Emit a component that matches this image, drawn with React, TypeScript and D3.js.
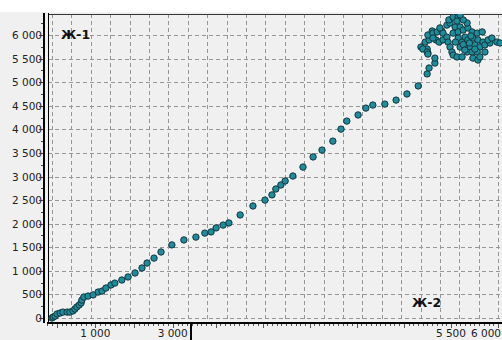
import React from "react";
import * as d3 from "d3";

const W = 502, H = 340;

// series: Ж-2 (horizontal) against Ж-1 (vertical)
const trackX = [0, 15, 40, 65, 105, 140, 195, 230, 270, 295, 320, 350, 375, 385, 410, 465, 530, 595, 645, 695, 760, 810, 900, 980, 1070, 1160, 1225, 1315, 1405, 1545, 1700, 1855, 1970, 2050, 2115, 2205, 2280, 2425, 2590, 2745, 2835, 2885, 2950, 3005, 3105, 3235, 3365, 3480, 3620, 3725, 3800, 3945, 4045, 4135, 4290, 4435, 4575, 4720, 4835, 4860, 4935, 4935, 4845, 4835, 4755];
const trackY = [0, 20, 40, 85, 105, 125, 125, 125, 150, 190, 235, 275, 320, 380, 445, 465, 490, 550, 570, 635, 700, 740, 805, 870, 955, 1060, 1165, 1270, 1400, 1550, 1655, 1715, 1800, 1825, 1910, 1970, 2015, 2185, 2375, 2500, 2610, 2735, 2820, 2905, 3010, 3200, 3415, 3560, 3750, 4005, 4175, 4305, 4450, 4515, 4535, 4620, 4750, 4920, 5175, 5300, 5405, 5510, 5620, 5705, 5745];

const clusterX = [4780, 4835, 4845, 4810, 4860, 4845, 4900, 4910, 4965, 5025, 5040, 4950, 4990, 5040, 5090, 5130, 5115, 5170, 5235, 5220, 5195, 5260, 5090, 5105, 5130, 5155, 5170, 5220, 5285, 5170, 5235, 5300, 5360, 5415, 5480, 5545, 5235, 5285, 5325, 5360, 5425, 5490, 5555, 5260, 5325, 5390, 5450, 5515, 5580, 5645, 5350, 5415, 5480, 5425, 5490, 5515, 5580, 5620, 5670, 5735, 5775, 5350, 5300, 5260, 5000, 4910, 5300, 5380, 5450, 5400, 5200, 5320];
const clusterY = [5705, 5640, 5595, 5850, 5895, 6000, 6085, 6040, 6065, 6085, 6040, 5895, 5850, 5895, 6210, 6255, 6320, 6380, 6380, 6295, 6170, 6170, 5955, 5850, 5745, 5640, 5575, 5535, 5535, 6040, 6065, 6105, 6150, 6065, 6040, 6065, 5935, 5850, 5955, 5895, 5935, 5895, 5850, 5745, 5725, 5745, 5790, 5745, 5790, 5830, 5640, 5640, 5640, 5510, 5470, 5535, 5640, 5895, 5935, 5850, 5830, 6255, 6320, 6425, 6150, 5935, 5800, 5830, 5700, 5980, 5850, 5680];

const yTicks = d3.range(0, 6001, 500);
const xGridStep = 250;
const bottomLabelsA = [1000, 3000];
const bottomLabelsB = [5500, 6000];

const locale = d3.formatLocale({ decimal: ",", thousands: " ", grouping: [3], currency: ["", ""] });
const fmt = locale.format(",");

const plot = { left: 48, right: 502, top: 14, bottom: 322 };

export default function App() {
  const x = d3.scaleLinear().domain([0, 5800]).range([52, 502]);
  const y = d3.scaleLinear().domain([0, 6000]).range([318, 35]);
  // two pieces of the bottom axis
  const xa = d3.scaleLinear().domain([-250, 3500]).range([47, 192]);
  const xb = d3.scaleLinear().domain([2750, 6000]).range([192, 498]);

  const pts = [
    ...trackX.map((v, i) => [v, trackY[i]]),
    ...clusterX.map((v, i) => [v, clusterY[i]]),
  ];
  const xGrid = d3.range(0, 5800, xGridStep);
  const yMinor = d3.range(0, 6401, 250);
  const minorA = d3.range(-250, 3501, 125);
  const minorB = d3.range(2750, 6001, 50);
  const font = "'DejaVu Sans', Tahoma, sans-serif";
  const last = bottomLabelsB[bottomLabelsB.length - 1];

  return (
    <svg width={W} height={H} style={{ position: "absolute", left: 0, top: 0, display: "block" }}>
      <defs>
        <clipPath id="plotclip">
          <rect x={plot.left} y={plot.top} width={plot.right - plot.left} height={plot.bottom - plot.top} />
        </clipPath>
      </defs>
      <rect width={W} height={H} fill="#f0f0f0" />
      <rect width={W} height={12} fill="#ffffff" />

      {/* grid */}
      <g stroke="#969696" strokeWidth={1} strokeDasharray="4,3" shapeRendering="crispEdges">
        {xGrid.map(v => (
          <line key={"gx" + v} x1={Math.round(x(v)) + 0.5} x2={Math.round(x(v)) + 0.5} y1={plot.top} y2={plot.bottom} />
        ))}
        {yTicks.map(v => (
          <line key={"gy" + v} x1={plot.left} x2={plot.right} y1={Math.round(y(v)) + 0.5} y2={Math.round(y(v)) + 0.5} />
        ))}
      </g>

      {/* frame and axes */}
      <g stroke="#000" shapeRendering="crispEdges">
        <line x1={plot.left} x2={plot.right} y1={plot.top + 0.5} y2={plot.top + 0.5} strokeWidth={1} stroke="#333" />
        <line x1={43.5} x2={43.5} y1={13} y2={plot.bottom + 1} strokeWidth={2} />
        <line x1={48.5} x2={48.5} y1={13} y2={plot.bottom} strokeWidth={1} />
        <line x1={47} x2={W} y1={plot.bottom + 1} y2={plot.bottom + 1} strokeWidth={2} />
        <line x1={191} x2={191} y1={plot.bottom} y2={H} strokeWidth={2} />
        {yMinor.map(v => (
          <line key={"ym" + v} x1={v % 500 === 0 ? 39 : 41} x2={43} y1={Math.round(y(v)) + 0.5} y2={Math.round(y(v)) + 0.5} strokeWidth={1} stroke="#444" />
        ))}
        {minorA.map(v => (
          <line key={"ma" + v} x1={Math.round(xa(v)) + 0.5} x2={Math.round(xa(v)) + 0.5} y1={plot.bottom + 2} y2={plot.bottom + (v % 1000 === 0 ? 6 : 4)} strokeWidth={1} stroke="#555" />
        ))}
        {minorB.map(v => (
          <line key={"mb" + v} x1={Math.round(xb(v)) + 0.5} x2={Math.round(xb(v)) + 0.5} y1={plot.bottom + 2} y2={plot.bottom + (v % 500 === 0 ? 6 : 4)} strokeWidth={1} stroke="#555" />
        ))}
      </g>

      {/* y labels */}
      <g fontFamily={font} fontSize={10.5} fill="#222" textAnchor="end">
        {yTicks.map(v => (
          <text key={"yl" + v} x={42} y={y(v) + 4}>{fmt(v)}</text>
        ))}
      </g>

      {/* x labels */}
      <g fontFamily={font} fontSize={10.5} fill="#222" textAnchor="middle">
        {bottomLabelsA.map(v => (
          <text key={"xa" + v} x={xa(v)} y={337}>{fmt(v)}</text>
        ))}
        {bottomLabelsB.map(v => (
          v === last
            ? <text key={"xb" + v} x={W - 1} y={337} textAnchor="end">{fmt(v)}</text>
            : <text key={"xb" + v} x={xb(v)} y={337}>{fmt(v)}</text>
        ))}
      </g>

      {/* points */}
      <g clipPath="url(#plotclip)" fill="#1f8c9b" stroke="#12363d" strokeWidth={1}>
        {pts.map((p, i) => (
          <circle key={"p" + i} cx={x(p[0])} cy={y(p[1])} r={3.2} />
        ))}
      </g>

      {/* series names */}
      <g fontFamily={font} fontSize={12.5} fontWeight="bold" fill="#111">
        <text x={61} y={39}>Ж-1</text>
        <text x={412} y={307}>Ж-2</text>
      </g>
    </svg>
  );
}
